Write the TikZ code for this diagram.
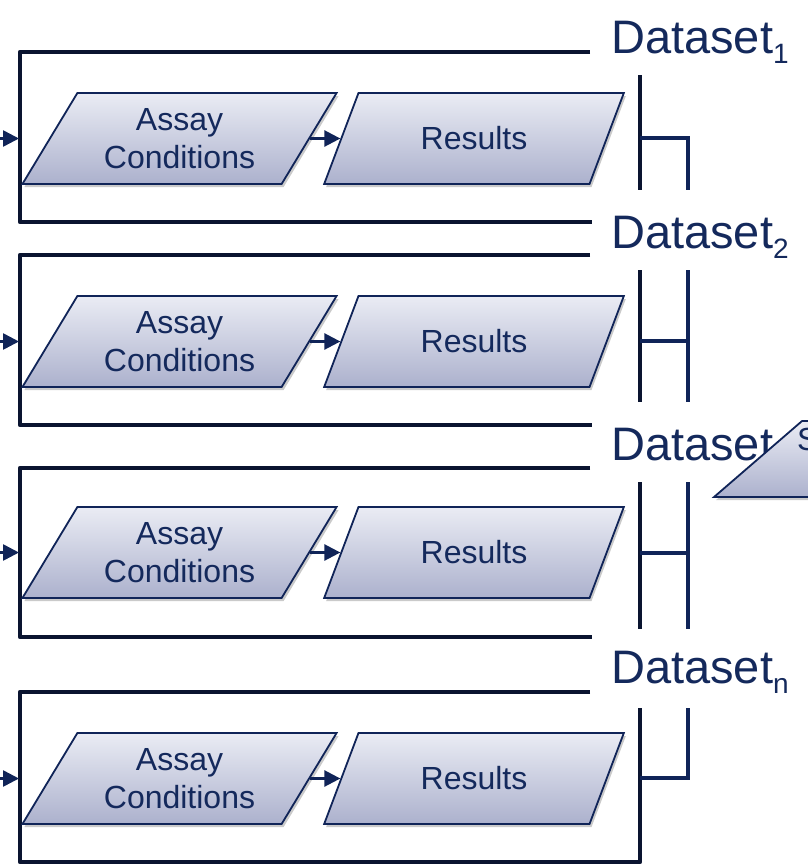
\documentclass[tikz,border=0pt]{standalone}
\usepackage{fontspec}
\setmainfont{Liberation Sans}
\usetikzlibrary{shapes.geometric,arrows.meta,shadows}
\definecolor{boxline}{HTML}{0A1430}
\definecolor{navy}{HTML}{102458}
\definecolor{txt}{HTML}{14295C}
\definecolor{ptop}{HTML}{EAECF4}
\definecolor{pbot}{HTML}{ACB1CD}
\tikzset{
 para/.style={trapezium, trapezium left angle=56, trapezium right angle=124,
   trapezium stretches=true, minimum height=91pt, draw=navy, line width=1.8pt,
   top color=ptop, bottom color=pbot, text=txt, font=\fontsize{32}{38}\selectfont,
   align=center, inner sep=0pt,
   drop shadow={shadow xshift=2pt, shadow yshift=-3pt, opacity=0.35, fill=black!60}},
 assay/.style={para, minimum width=315pt},
 res/.style={para, minimum width=300pt},
 frameline/.style={draw=boxline, line width=4.8pt, line join=round},
 thinline/.style={draw=navy, line width=3.8pt},
 flow/.style={draw=navy, line width=2.6pt, -{Triangle[length=16pt,width=16pt]}},
 dlabel/.style={anchor=base west, inner sep=0pt, text=txt, font=\fontsize{47}{47}\selectfont}
}
\newcommand\DSrow[5]{%
 \coordinate (in#1) at (19,#3);
 \coordinate (src#1) at (0,#3);
 \node[assay] (a#1) at (179.5,#3) {Assay\\Conditions};
 \node[res] (r#1) at (474,#3) {Results};
 \draw[flow] (a#1.east) -- (r#1.west);
 \draw[flow] (src#1) -- (in#1);
 \node[dlabel] (l#1) at (611,#4) {Dataset\raisebox{-10pt}{\fontsize{28}{28}\selectfont #5}};
}
\begin{document}
\begin{tikzpicture}[x=1pt,y=-1pt]
\useasboundingbox (0,0) rectangle (808,865);
\clip (0,0) rectangle (808,865);
% frames
\draw[frameline] (590,52) -- (20,52) -- (20,222) -- (592,222);
\draw[frameline] (590,255) -- (20,255) -- (20,425) -- (592,425);
\draw[frameline] (590,468) -- (20,468) -- (20,637) -- (592,637);
\draw[frameline] (590,692) -- (20,692) -- (20,862) -- (640,862) -- (640,708);
% rows
\DSrow{1}{52}{138.5}{53}{1}
\DSrow{2}{255}{341.5}{248}{2}
\DSrow{3}{468}{552.5}{460}{3}
\DSrow{n}{692}{778.5}{683}{n}
% right-hand lines
\draw[frameline] (640,75) -- (640,190);
\draw[thinline] (640,138) -| (688,190);
\draw[frameline] (640,270) -- (640,402);
\draw[thinline] (688,270) -- (688,402);
\draw[thinline] (640,341) -- (688,341);
\draw[frameline] (640,482) -- (640,629);
\draw[thinline] (688,482) -- (688,629);
\draw[thinline] (640,553) -- (688,553);
\draw[thinline] (640,778) -| (688,708);
% partly visible shape at the right
\node[res, minimum height=76pt] (s) at (863.5,459) {\phantom{S}};
\node[anchor=base west, inner sep=0pt, text=txt, font=\fontsize{32}{32}\selectfont] (st) at (797,450) {S};
\end{tikzpicture}
\end{document}
